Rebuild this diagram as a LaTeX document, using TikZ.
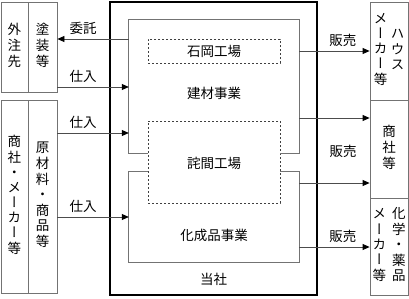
\documentclass[tikz,border=0pt]{standalone}
\usepackage{fontspec}
\setmainfont{Noto Sans CJK JP}
\newfontfamily\tatefont[RawFeature=+vert]{Noto Sans CJK JP}
\usetikzlibrary{arrows.meta}
\newcommand\tate[1]{\begin{tabular}{@{}c@{}}#1\end{tabular}}

\begin{document}
\begin{tikzpicture}[
  x=1pt, y=-1pt,
  font=\fontsize{13.5}{15}\selectfont,
  party/.style={rectangle, draw=black!55, line width=0.8pt, inner sep=0pt, font=\tatefont\fontsize{13.5}{15}\selectfont},
  frame/.style={rectangle, draw=black, line width=2.6pt, inner sep=0pt},
  plant/.style={rectangle, draw=black!75, line width=0.8pt, dash pattern=on 2pt off 2pt, inner sep=0pt},
  area/.style={rectangle, inner sep=0pt, minimum width=170pt},
  biz/.style={draw=black!55, line width=0.8pt},
  flow/.style={draw=black!70, line width=0.8pt, -{Triangle[length=7pt, width=6pt, black]}},
  ]
 \useasboundingbox (0,0) rectangle (409,298);

 \node [frame, minimum width=207pt, minimum height=293pt] (tosha) at (213.5,148.5) {};
 \node (toshaL) at (213.5,279) {当社};

 \node [plant, minimum width=132pt, minimum height=24pt] (ishioka) at (214,51) {石岡工場};
 \node [plant, minimum width=132pt, minimum height=82pt] (takuma) at (214,162) {};
 \node (takumaL) at (214,163) {詫間工場};

 \node [area, minimum height=133pt] (kenzai) at (214,86.5) {};
 \node [area, minimum height=90pt] (kasei) at (214,217) {};
 \draw [biz] (takuma.west |- kenzai.south) -- (kenzai.south west) -- (kenzai.north west)
   -- (kenzai.north east) -- (kenzai.south east) -- (takuma.east |- kenzai.south);
 \draw [biz] (takuma.west |- kasei.north) -- (kasei.north west) -- (kasei.south west)
   -- (kasei.south east) -- (kasei.north east) -- (takuma.east |- kasei.north);
 \node (kenzaiL) at (214,93) {建材事業};
 \node (kaseiL) at (214,235) {化成品事業};

 \node [party, minimum width=27pt, minimum height=90pt] (gaichu) at (14.5,47) {\tate{外\\注\\先}};
 \node [party, minimum width=29pt, minimum height=90pt] (toso) at (42.5,47) {\tate{塗\\装\\等}};
 \node [party, minimum width=27pt, minimum height=193pt] (shosha) at (14.5,196.5) {\tate{商\\社\\・\\メ\\ー\\カ\\ー\\等}};
 \node [party, minimum width=29pt, minimum height=193pt] (genzai) at (42.5,196.5) {\tate{原\\材\\料\\・\\商\\品\\等}};

 \node [party, minimum width=38pt, minimum height=98pt] (house) at (389,51) {\tate{メ\\ー\\カ\\ー\\等}\hspace{3.5pt}\tate{ハ\\ウ\\ス}};
 \node [party, minimum width=38pt, minimum height=98pt] (shosha2) at (389,149) {\tate{商\\社\\等}};
 \node [party, minimum width=38pt, minimum height=97pt] (kagaku) at (389,246.5) {\tate{メ\\ー\\カ\\ー\\等}\hspace{6pt}\tate{化\\学\\・\\薬\\品}};

 \draw [flow] (kenzai.west |- 0,39) -- node [above=1pt, pos=0.64] (itaku) {委託} (toso.east |- 0,39);
 \draw [flow] (toso.east |- 0,87) -- node [above=1pt, pos=0.36] (shiire1) {仕入} (kenzai.west |- 0,87);
 \draw [flow] (genzai.east |- 0,133) -- node [above=1pt, pos=0.36] (shiire2) {仕入} (kenzai.west |- 0,133);
 \draw [flow] (genzai.east |- 0,217) -- node [above=1pt, pos=0.36] (shiire3) {仕入} (kasei.west |- 0,217);

 \draw [flow] (kenzai.east |- 0,51) -- node [above=1pt, pos=0.62] (hanbai1) {販売} (house.west |- 0,51);
 \draw [flow] (kenzai.east |- 0,118) -- (shosha2.west |- 0,118);
 \draw [flow] (kasei.east |- 0,183) -- (shosha2.west |- 0,183);
 \node (hanbai2) at (343,151) {販売};
 \draw [flow] (kasei.east |- 0,247) -- node [above=1pt, pos=0.62] (hanbai3) {販売} (kagaku.west |- 0,247);
\end{tikzpicture}
\end{document}
